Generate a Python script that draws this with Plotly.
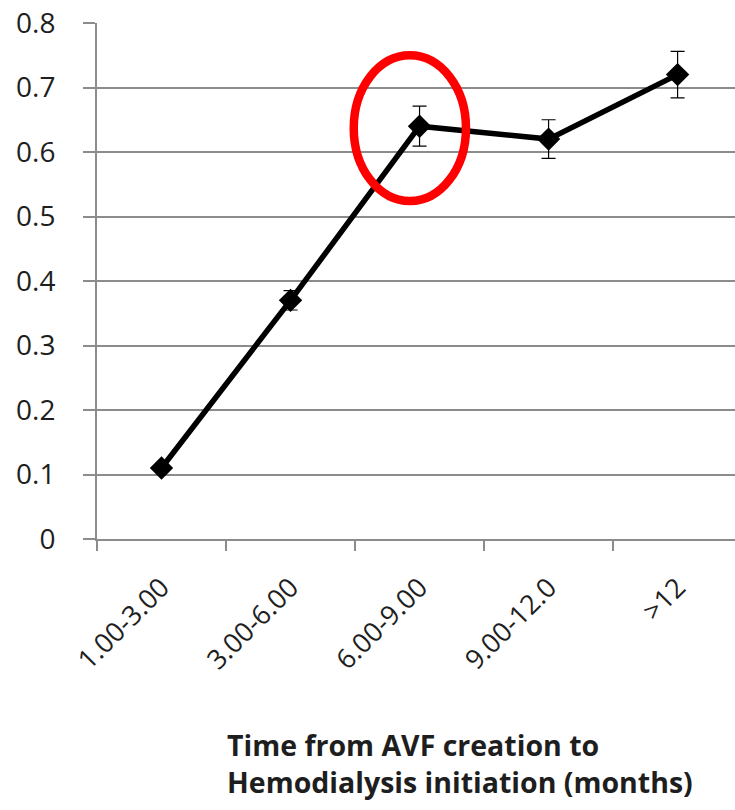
import plotly.graph_objects as go

categories = ["1.00-3.00", "3.00-6.00", "6.00-9.00", "9.00-12.0", ">12"]
values = [0.11, 0.37, 0.64, 0.62, 0.72]
errors = [0.0, 0.015, 0.031, 0.030, 0.036]
y_ticks = [0, 0.1, 0.2, 0.3, 0.4, 0.5, 0.6, 0.7, 0.8]
y_tick_labels = ["0", "0.1", "0.2", "0.3", "0.4", "0.5", "0.6", "0.7", "0.8"]
highlight_index = 2
x_title = "Time from AVF creation to<br>Hemodialysis initiation (months)"

GRID = "#8c8c8c"
TEXT = "#1e1e1e"
FONT = "Open Sans"

fig = go.Figure()
fig.add_trace(go.Scatter(
    x=categories, y=values, mode="lines+markers",
    line=dict(color="black", width=5.5),
    marker=dict(symbol="diamond", size=18, color="black"),
    error_y=dict(type="data", array=errors, visible=True, color="black",
                 thickness=1.2, width=7),
    showlegend=False,
))

# highlight ellipse around the selected point
hx = highlight_index - 0.075
hy = values[highlight_index] - 0.003
fig.add_shape(type="circle", xref="x", yref="y",
              x0=hx - 0.435, x1=hx + 0.435, y0=hy - 0.113, y1=hy + 0.113,
              line=dict(color="#ff0000", width=8.5))

fig.add_annotation(text=x_title, xref="paper", yref="paper",
                   x=0.569, y=-0.358, xanchor="center", yanchor="top",
                   showarrow=False, align="left",
                   font=dict(family=FONT, size=28.5, color=TEXT, weight="bold"))

fig.update_layout(
    width=735, height=810,
    margin=dict(l=97, r=0, t=23, b=271),
    paper_bgcolor="white", plot_bgcolor="white",
    font=dict(family=FONT, size=26, color=TEXT),
    xaxis=dict(
        type="category", range=[-0.5, 4.445],
        showgrid=False, showline=True, linecolor=GRID, linewidth=2,
        ticks="outside", tickson="boundaries", ticklen=10, tickwidth=2,
        tickcolor=GRID, tickangle=-45, ticklabelstandoff=20,
        tickfont=dict(family=FONT, size=27, color=TEXT),
    ),
    yaxis=dict(
        range=[0, 0.8], tickvals=y_ticks, ticktext=y_tick_labels,
        showgrid=True, gridcolor=GRID, gridwidth=2,
        showline=True, linecolor=GRID, linewidth=2,
        ticks="outside", ticklen=12, tickwidth=2, tickcolor=GRID,
        ticklabelstandoff=22, zeroline=False,
        tickfont=dict(family=FONT, size=28, color=TEXT),
    ),
)

fig.write_html("out.html")
